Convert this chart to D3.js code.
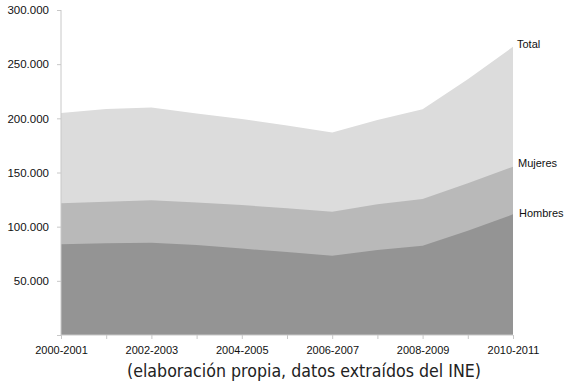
<!DOCTYPE html>
<html>
<head>
<meta charset="utf-8">
<script src="https://cdn.jsdelivr.net/npm/d3@7"></script>
<style>
body { margin: 0; background: #fff; }
.axis path, .axis line { stroke: #c8c8c8; }
</style>
</head>
<body>
<div id="chart"></div>
<script>
// data
var years = ["2000-2001", "2001-2002", "2002-2003", "2003-2004", "2004-2005", "2005-2006",
    "2006-2007", "2007-2008", "2008-2009", "2009-2010", "2010-2011"];
var total = [205000, 208600, 210000, 204500, 199400, 193400, 186900, 198500, 208300, 236000, 266100];
var mujeres = [121600, 123000, 124300, 122300, 120000, 117000, 113800, 120600, 125500, 140000, 155400];
var hombres = [83700, 84600, 85200, 83100, 79800, 76600, 73200, 78500, 82400, 96300, 111400];
var yTicks = [0, 50000, 100000, 150000, 200000, 250000, 300000];
var caption = "(elaboración propia, datos extraídos del INE)";

var width = 567, height = 385;
var font = "'Liberation Sans', Arial, Helvetica, sans-serif";
var svg = d3.select("#chart").append("svg")
    .attr("width", width)
    .attr("height", height);

var x = d3.scalePoint().domain(years).range([61, 513]);
var y = d3.scaleLinear().domain([0, 300000]).range([335, 10]);

var fmt = d3.formatLocale({decimal: ",", thousands: ".", grouping: [3], currency: ["", "€"]}).format(",");

function area(values) {
    return d3.area()
        .x((d, i) => x(years[i]))
        .y0(y(0))
        .y1((d) => y(d))(values);
}

// areas (overlapping, drawn back to front)
svg.append("path").attr("d", area(total)).attr("fill", "#dcdcdc");
svg.append("path").attr("d", area(mujeres)).attr("fill", "#b9b9b9");
svg.append("path").attr("d", area(hombres)).attr("fill", "#949494");

// axes
var yAxis = d3.axisLeft(y)
    .tickValues(yTicks)
    .tickSize(4)
    .tickPadding(8)
    .tickFormat((d) => d === 0 ? "" : fmt(d));
svg.append("g").attr("class", "axis")
    .attr("transform", "translate(61,0)")
    .call(yAxis)
    .attr("font-family", font)
    .attr("font-size", 11.5)
    .call((g) => g.select(".domain").attr("d", "M0,10V335"))
    .selectAll("text").attr("fill", "#111");

var xAxis = d3.axisBottom(x)
    .tickSize(4)
    .tickPadding(7)
    .tickFormat((d, i) => i % 2 === 0 ? d : "");
svg.append("g").attr("class", "axis")
    .attr("transform", "translate(0,335)")
    .call(xAxis)
    .attr("font-family", font)
    .attr("font-size", 11)
    .call((g) => g.select(".domain").attr("d", "M61,0H513"))
    .selectAll("text").attr("fill", "#111");

// series labels
var last = years.length - 1;
var labels = [
    {name: "Total", v: total[last], dx: 4, dy: 1},
    {name: "Mujeres", v: mujeres[last], dx: 5, dy: 0},
    {name: "Hombres", v: hombres[last], dx: 6, dy: 3}
];
svg.selectAll(".serie")
    .data(labels).enter()
    .append("text")
    .attr("class", "serie")
    .attr("x", (d) => x(years[last]) + d.dx)
    .attr("y", (d) => y(d.v) + d.dy)
    .attr("font-family", font)
    .attr("font-size", "11px")
    .attr("fill", "#111")
    .text((d) => d.name);

// caption
svg.append("text")
    .attr("x", 304)
    .attr("y", 377)
    .attr("text-anchor", "middle")
    .attr("font-family", "'DejaVu Sans Condensed', Roboto, sans-serif")
    .attr("font-stretch", "condensed")
    .attr("font-size", "18px")
    .attr("textLength", 354)
    .attr("lengthAdjust", "spacingAndGlyphs")
    .attr("fill", "#222")
    .text(caption);
</script>
</body>
</html>
